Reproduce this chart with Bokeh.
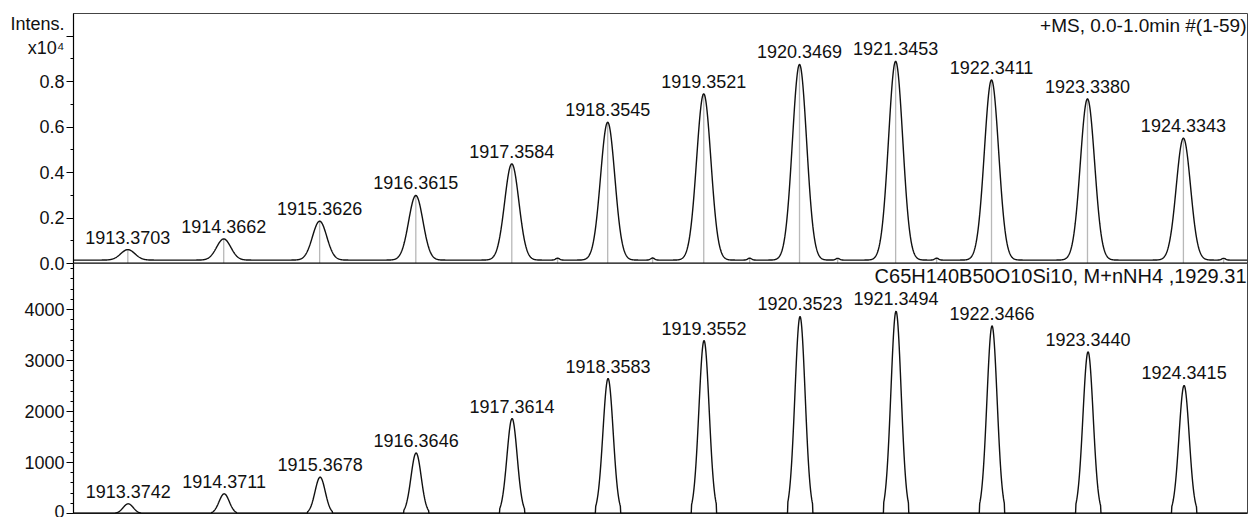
import numpy as np
from bokeh.plotting import figure
from bokeh.layouts import column
from bokeh.models import Range1d, Label, ColumnDataSource, FixedTicker, PrintfTickFormatter, Span
from bokeh.embed import file_html
from bokeh.resources import INLINE
from bokeh.core.properties import value

# ---------------- data ----------------
# measured spectrum (top panel), intensity in units of 10^4
meas_mz = [1913.3703, 1914.3662, 1915.3626, 1916.3615, 1917.3584, 1918.3545,
           1919.3521, 1920.3469, 1921.3453, 1922.3411, 1923.3380, 1924.3343]
meas_int = [0.061, 0.108, 0.186, 0.299, 0.438, 0.621,
            0.746, 0.875, 0.889, 0.807, 0.724, 0.551]
meas_labels = ["1913.3703", "1914.3662", "1915.3626", "1916.3615", "1917.3584", "1918.3545",
               "1919.3521", "1920.3469", "1921.3453", "1922.3411", "1923.3380", "1924.3343"]
meas_baseline = 0.015
minor_mz = [1917.834, 1918.821, 1919.829, 1920.743, 1921.771, 1924.752]
minor_int = [0.024, 0.026, 0.024, 0.022, 0.024, 0.022]

# simulated isotope pattern (bottom panel)
sim_mz = [1913.3742, 1914.3711, 1915.3678, 1916.3646, 1917.3614, 1918.3583,
          1919.3552, 1920.3523, 1921.3494, 1922.3466, 1923.3440, 1924.3415]
sim_int = [190, 386, 712, 1186, 1862, 2647, 3392, 3863, 3967, 3680, 3170, 2510]
sim_labels = ["1913.3742", "1914.3711", "1915.3678", "1916.3646", "1917.3614", "1918.3583",
              "1919.3552", "1920.3523", "1921.3494", "1922.3466", "1923.3440", "1924.3415"]

top_ticks = [0.0, 0.2, 0.4, 0.6, 0.8, 1.0]
top_minor = [0.1, 0.3, 0.5, 0.7, 0.9]
bot_ticks = [0, 1000, 2000, 3000, 4000]
bot_minor = [v for v in range(200, 4900, 200) if v % 1000 != 0]

title_top = "+MS, 0.0-1.0min #(1-59)"
title_bot = "C65H140B50O10Si10, M+nNH4 ,1929.31"
y_title = "Intens.\nx10\u2074"

# ---------------- profiles ----------------
X0, X1 = 1912.806, 1925.0
Y1_TOP, Y1_BOT = 1.099, 4902
xs = np.arange(X0, X1, 0.004)
sig_top = 0.074
ys_top = np.full_like(xs, meas_baseline)
for m, a in zip(meas_mz, meas_int):
    ys_top += (a - meas_baseline) * np.exp(-(xs - m) ** 2 / (2 * sig_top ** 2))
for m, a in zip(minor_mz, minor_int):
    ys_top += 0.35 * a * np.exp(-(xs - m) ** 2 / (2 * 0.02 ** 2))

sig_bot, cut_bot = 0.053, 0.13
ys_bot = np.zeros_like(xs)
for m, a in zip(sim_mz, sim_int):
    d = xs - m
    g = a * np.exp(-d ** 2 / (2 * sig_bot ** 2))
    g[np.abs(d) > cut_bot] = 0
    ys_bot += g

FONT = "Liberation Sans"
TXT = "#111111"


def style_axis(ax):
    ax.axis_line_color = "black"
    ax.axis_line_width = 1.2
    ax.major_tick_line_color = "black"
    ax.minor_tick_line_color = "black"
    ax.major_tick_out = 7
    ax.major_tick_in = 0
    ax.minor_tick_out = 3
    ax.minor_tick_in = 0
    ax.major_label_text_font = FONT
    ax.major_label_text_font_size = "18px"
    ax.major_label_text_color = TXT
    ax.major_label_standoff = 2


# ---------------- top panel ----------------
p1 = figure(width=1250, height=273, x_range=Range1d(X0, X1), y_range=Range1d(0, Y1_TOP),
            output_backend="svg", toolbar_location=None,
            min_border_left=73, min_border_right=3, min_border_top=13, min_border_bottom=10)
p1.xaxis.visible = False
p1.grid.visible = False
p1.outline_line_color = "#444444"
p1.outline_line_width = 1
style_axis(p1.yaxis[0])
p1.yaxis.ticker = FixedTicker(ticks=top_ticks, minor_ticks=top_minor)
p1.yaxis.formatter = PrintfTickFormatter(format="%.1f")
p1.yaxis.major_label_overrides = {1.0: y_title}

p1.segment(x0=meas_mz, y0=[0] * len(meas_mz), x1=meas_mz, y1=meas_int,
           line_color="#b8b8b8", line_width=1.3)
p1.segment(x0=minor_mz, y0=[0] * len(minor_mz), x1=minor_mz, y1=minor_int,
           line_color="#b8b8b8", line_width=1.3)
p1.line(xs, ys_top, line_color="#111111", line_width=1.4)
p1.add_layout(Span(location=0, dimension="width", line_color="black", line_width=2))

src1 = ColumnDataSource(dict(x=meas_mz, y=meas_int, t=meas_labels))
p1.text(x="x", y="y", text="t", source=src1, text_font=value(FONT),
        text_font_size=value("18px"), text_align="center", text_baseline="alphabetic",
        y_offset=-12.5, text_color=TXT)

p1.add_layout(Label(x=X1, y=Y1_TOP, text=title_top,
                    text_font=FONT, text_font_size="19px", text_color=TXT,
                    text_align="right", text_baseline="alphabetic", x_offset=-1, y_offset=-12))

# ---------------- bottom panel ----------------
p2 = figure(width=1250, height=254, x_range=p1.x_range, y_range=Range1d(0, Y1_BOT),
            output_backend="svg", toolbar_location=None,
            min_border_left=73, min_border_right=3, min_border_top=0, min_border_bottom=4,
            background_fill_alpha=0, border_fill_alpha=0)
p2.margin = (-10, 0, 0, 0)
p2.xaxis.visible = False
p2.grid.visible = False
p2.outline_line_color = "#444444"
p2.outline_line_width = 1
style_axis(p2.yaxis[0])
p2.yaxis.ticker = FixedTicker(ticks=bot_ticks, minor_ticks=bot_minor)
p2.yaxis.formatter = PrintfTickFormatter(format="%d")

p2.line(xs, ys_bot, line_color="#111111", line_width=1.4)
p2.add_layout(Span(location=0, dimension="width", line_color="black", line_width=2))

src2 = ColumnDataSource(dict(x=sim_mz, y=sim_int, t=sim_labels))
p2.text(x="x", y="y", text="t", source=src2, text_font=value(FONT),
        text_font_size=value("18px"), text_align="center", text_baseline="alphabetic",
        y_offset=-12.5, text_color=TXT)
p2.add_layout(Label(x=X1, y=Y1_BOT, text=title_bot, text_font=FONT, text_font_size="20px",
                    text_color=TXT, text_align="right", text_baseline="alphabetic",
                    x_offset=-1, y_offset=-12))

layout = column(p1, p2, spacing=0)
open("out.html", "w").write(file_html(layout, INLINE))
